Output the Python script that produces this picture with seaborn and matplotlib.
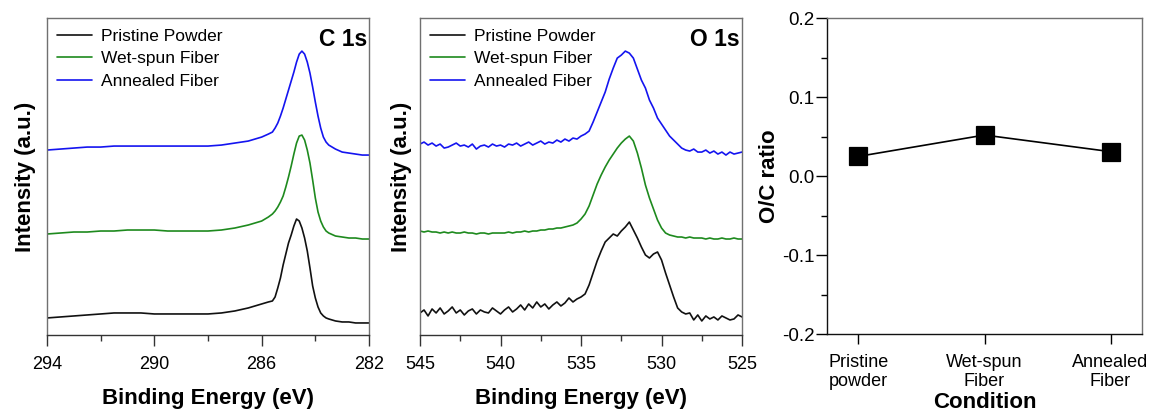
import numpy as np
import pandas as pd
import matplotlib
matplotlib.use("Agg")
import matplotlib.pyplot as plt
import seaborn as sns

# ---------------------------------------------------------
# DATA (intensity in arbitrary units)
# ---------------------------------------------------------

series_names = ["Pristine Powder", "Wet-spun Fiber", "Annealed Fiber"]
series_colors = ["#111111", "#1e8a1e", "#1414f0"]

# C 1s spectra
c1s_energy = [
    294.0, 293.5, 293.0, 292.5, 292.0, 291.5, 291.0, 290.5, 290.0, 289.5,
    289.0, 288.5, 288.0, 287.5, 287.0, 286.5, 286.25, 286.0, 285.75,
    285.6, 285.5, 285.4, 285.3, 285.2, 285.1, 285.0, 284.9, 284.8, 284.7,
    284.6, 284.5, 284.4, 284.3, 284.2, 284.1, 284.0, 283.9, 283.8, 283.7,
    283.6, 283.5, 283.25, 283.0, 282.75, 282.5, 282.25, 282.0,
]
c1s_pristine = [
    17, 18, 19, 20, 21, 22, 22, 22, 21, 21, 21, 21, 21, 22, 24, 27,
    29, 31, 33,
    34, 38, 47, 57, 70, 81, 92, 100, 109, 116, 114, 107, 97, 84, 67, 49,
    37, 28, 22, 19, 17, 16,
    14, 13, 13, 12, 12, 12,
]
c1s_wetspun = [
    101, 102, 103, 103, 104, 104, 105, 105, 105, 104, 104, 104, 104, 105, 107, 110,
    112, 114, 118,
    121, 124, 128, 133, 139, 148, 158, 169, 181, 192, 199, 200, 195, 185, 172, 155,
    137, 123, 114, 108, 104, 102,
    99, 98, 97, 97, 96, 96,
]
c1s_annealed = [
    185, 186, 187, 188, 188, 189, 189, 189, 189, 189, 189, 189, 189, 190, 192, 194,
    196, 198, 201,
    203, 207, 212, 219, 227, 236, 245, 254, 263, 273, 281, 284, 281, 273, 262, 248,
    233, 219, 207, 198, 193, 190,
    186, 183, 182, 181, 180, 180,
]

# O 1s spectra, 0.25 eV steps from 545 to 525 eV
o1s_energy = np.linspace(545, 525, 81)
o1s_pristine = [
    22, 25, 19, 26, 22, 27, 21, 24, 28, 22,
    25, 20, 24, 26, 21, 25, 23, 22, 27, 24,
    21, 25, 28, 23, 26, 30, 25, 31, 27, 33,
    28, 31, 26, 30, 33, 29, 32, 37, 33, 36,
    38, 41, 50, 62, 74, 84, 93, 97, 101, 99,
    104, 108, 113, 105, 97, 88, 80, 77, 81, 83,
    75, 62, 50, 38, 27, 23, 21, 22, 15, 20,
    14, 19, 16, 18, 15, 19, 17, 15, 16, 20,
    18,
]
o1s_wetspun = [
    104, 103, 104, 103, 103, 102, 103, 102, 103, 102,
    102, 103, 102, 102, 101, 102, 102, 101, 102, 102,
    102, 102, 103, 102, 103, 103, 104, 103, 104, 104,
    105, 105, 106, 106, 107, 107, 108, 109, 110, 112,
    116, 121, 129, 140, 151, 160, 168, 175, 181, 187,
    192, 196, 199, 194, 182, 167, 150, 137, 126, 115,
    107, 102, 100, 99, 98, 98, 97, 98, 97, 97,
    97, 96, 97, 96, 96, 97, 96, 96, 97, 96,
    96,
]
o1s_annealed = [
    191, 193, 190, 192, 189, 191, 187, 188, 190, 192,
    189, 190, 188, 191, 186, 189, 190, 188, 191, 189,
    190, 188, 191, 190, 192, 189, 191, 193, 190, 192,
    194, 191, 193, 192, 195, 193, 196, 194, 197, 196,
    199, 201, 204, 213, 223, 233, 243, 256, 267, 277,
    280, 284, 282, 277, 266, 255, 247, 235, 227, 217,
    211, 205, 199, 195, 191, 187, 185, 184, 186, 183,
    183, 185, 182, 184, 181, 183, 180, 183, 181, 182,
    183,
]

# O/C ratio
conditions = ["Pristine\npowder", "Wet-spun\nFiber", "Annealed\nFiber"]
oc_ratio = [0.025, 0.052, 0.031]

# ---------------------------------------------------------
# STYLE
# ---------------------------------------------------------

sns.set_style("ticks")
plt.rcParams["font.family"] = ["Liberation Sans", "DejaVu Sans"]
plt.rcParams["text.color"] = "black"
plt.rcParams["axes.labelcolor"] = "black"
plt.rcParams["xtick.color"] = "black"
plt.rcParams["ytick.color"] = "black"

fig = plt.figure(figsize=(11.51, 4.12), dpi=100)
ax_c = fig.add_axes([0.0408, 0.187, 0.2798, 0.769])
ax_o = fig.add_axes([0.3649, 0.187, 0.2798, 0.769])
ax_r = fig.add_axes([0.7185, 0.189, 0.2737, 0.767])


def style_spectrum_axes(ax, major, minor, xlim, tag):
    ax.set_xlim(*xlim)
    ax.set_ylim(0, 317)
    ax.set_xticks(major)
    ax.set_xticks(minor, minor=True)
    ax.set_yticks([])
    ax.tick_params(axis="x", which="major", direction="out", length=8, width=1,
                   pad=7, labelsize=13, color="#333333", labelcolor="black")
    ax.tick_params(axis="x", which="minor", direction="out", length=4, width=1,
                   color="#333333")
    for side in ["top", "right", "left"]:
        ax.spines[side].set_color("#707070")
    ax.spines["bottom"].set_color("#333333")
    for sp in ax.spines.values():
        sp.set_linewidth(1.0)
    ax.set_xlabel("Binding Energy (eV)", fontsize=16, fontweight="bold", labelpad=11)
    ax.text(0.993, 0.968, tag, transform=ax.transAxes, ha="right", va="top",
            fontsize=16.5, fontweight="bold")
    ax.legend(loc="upper left", frameon=False, fontsize=12.5, handlelength=2.0,
              handletextpad=0.5, labelspacing=0.42, borderaxespad=0.3,
              borderpad=0.3)


# ---------------------------------------------------------
# C 1s
# ---------------------------------------------------------

for name, color, vals in zip(series_names, series_colors,
                             [c1s_pristine, c1s_wetspun, c1s_annealed]):
    sns.lineplot(x=c1s_energy, y=vals, ax=ax_c, color=color, linewidth=1.2,
                 label=name, sort=False)
style_spectrum_axes(ax_c, [294, 290, 286, 282], [292, 288, 284], (294, 282), "C 1s")
ax_c.set_ylabel("Intensity (a.u.)", fontsize=16, fontweight="bold", labelpad=8)

# ---------------------------------------------------------
# O 1s
# ---------------------------------------------------------

for name, color, vals in zip(series_names, series_colors,
                             [o1s_pristine, o1s_wetspun, o1s_annealed]):
    sns.lineplot(x=o1s_energy, y=vals, ax=ax_o, color=color, linewidth=1.2,
                 label=name, sort=False)
style_spectrum_axes(ax_o, [545, 540, 535, 530, 525],
                    [542.5, 537.5, 532.5, 527.5], (545, 525), "O 1s")
ax_o.set_ylabel("Intensity (a.u.)", fontsize=16, fontweight="bold", labelpad=6)

# ---------------------------------------------------------
# O/C ratio
# ---------------------------------------------------------

df = pd.DataFrame({"Condition": conditions, "ratio": oc_ratio})
sns.pointplot(data=df, x="Condition", y="ratio", ax=ax_r, color="black",
              markers="s", markersize=13, linewidth=1.2)
ax_r.set_xlim(-0.25, 2.25)
ax_r.set_ylim(-0.2, 0.2)
ax_r.set_yticks([-0.2, -0.1, 0.0, 0.1, 0.2])
ax_r.set_yticklabels(["-0.2", "-0.1", "0.0", "0.1", "0.2"])
ax_r.set_yticks([-0.15, -0.05, 0.05, 0.15], minor=True)
ax_r.tick_params(axis="y", which="major", direction="out", length=8, width=1,
                 pad=1, labelsize=13.5)
ax_r.tick_params(axis="y", which="minor", direction="out", length=4, width=1)
ax_r.tick_params(axis="x", which="major", direction="out", length=7, width=1,
                 pad=7, labelsize=13)
for side in ["top", "right"]:
    ax_r.spines[side].set_visible(True)
    ax_r.spines[side].set_color("#707070")
for side in ["left", "bottom"]:
    ax_r.spines[side].set_color("#111111")
for sp in ax_r.spines.values():
    sp.set_linewidth(1.0)
ax_r.set_xlabel("Condition", fontsize=16, fontweight="bold", labelpad=1)
ax_r.set_ylabel("O/C ratio", fontsize=16, fontweight="bold", labelpad=1)

fig.savefig("out.png", dpi=100)
